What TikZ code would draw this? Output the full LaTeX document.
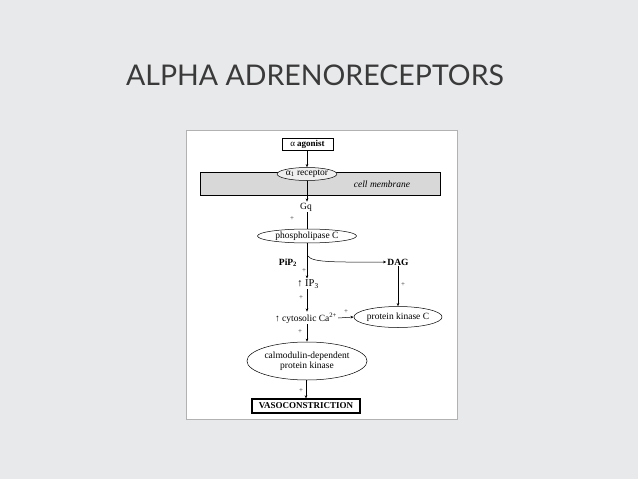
\documentclass[tikz,border=0pt]{standalone}
\usepackage{fontspec}
\setmainfont{Liberation Serif}
\newfontfamily\titlefont{Lato}
\usetikzlibrary{shapes.geometric,arrows.meta}
\definecolor{bgc}{HTML}{E8E9EB}
\definecolor{titlec}{HTML}{3A3A3A}
\definecolor{memc}{HTML}{D8D8D8}
\tikzset{
  lbl/.style={font=\fontsize{9.5}{10.5}\selectfont, inner sep=1pt},
  plus/.style={font=\fontsize{7}{7}\selectfont, inner sep=0.5pt, text=black!80},
  ell/.style={draw, ellipse, line width=0.5pt, inner sep=0pt, font=\fontsize{9.5}{10.5}\selectfont, fill=white},
  boxn/.style={draw, rectangle, line width=0.6pt, inner sep=0pt, font=\bfseries\fontsize{9}{10}\selectfont, fill=white},
  conn/.style={line width=0.5pt, -{Stealth[length=3.2pt,width=2.6pt]}},
}
\begin{document}
\begin{tikzpicture}[x=1pt,y=-1pt]
\useasboundingbox (0,0) rectangle (638,479);
\fill[bgc] (0,0) rectangle (638,479);
\node[text=titlec, font=\titlefont\fontsize{28.5}{30}\selectfont, anchor=base, inner sep=0pt] (title) at (315,85) {ALPHA ADRENORECEPTORS};
\draw[fill=white, draw=gray!60, line width=0.4pt] (186,130) rectangle (457,419);
\draw[fill=memc, line width=0.5pt] (200,172) rectangle (440,195);
\node[lbl, font=\itshape\fontsize{9.5}{10.5}\selectfont] (mem) at (382,184) {cell membrane};
\node[boxn, minimum width=51pt, minimum height=12pt, font=\fontsize{9}{10}\selectfont] (ago) at (307.5,144) {α \textbf{agonist}};
\node[ell, minimum width=53pt, minimum height=13pt, fill=memc!40] (rec) at (307,174) {α\textsubscript{1} receptor};
\node[lbl] (gq) at (306,207) {Gq};
\node[plus] (p1) at (292,219) {+};
\node[ell, minimum width=99pt, minimum height=14pt] (plc) at (307,236) {phospholipase C};
\node[lbl, font=\bfseries\fontsize{9.5}{10.5}\selectfont] (pip) at (288,263) {PiP\textsubscript{2}};
\node[lbl, font=\bfseries\fontsize{9.5}{10.5}\selectfont] (dag) at (398,262) {DAG};
\node[plus] (p2) at (304,271) {+};
\node[lbl, font=\fontsize{10.5}{11}\selectfont] (ip3) at (308,284) {↑ IP\textsubscript{3}};
\node[plus] (p3) at (301,298) {+};
\node[plus] (p4) at (403,285) {+};
\node[lbl] (ca) at (306,318) {↑ cytosolic Ca\textsuperscript{2+}};
\node[ell, minimum width=83pt, minimum height=21pt] (pkc) at (398,317) {protein kinase C};
\node[plus] (p5) at (346,312) {+};
\node[plus] (p6) at (300,332) {+};
\node[ell, minimum width=105pt, minimum height=38pt, align=center] (calm) at (307,361) {calmodulin-dependent\\protein kinase};
\node[plus] (p7) at (301,391) {+};
\node[boxn, minimum width=108pt, minimum height=14pt, line width=1.1pt] (vaso) at (306,406) {VASOCONSTRICTION};
\coordinate (br) at (308,256);
\draw[conn] (ago.south -| rec.north) -- (rec.north);
\draw[conn] (rec.south) -- (rec.south |- gq.north);
\draw[line width=0.5pt] (rec.south |- gq.south) -- (plc.north);
\draw[conn] (plc.south) -- (plc.south |- ip3.north);
\draw[conn] (br) .. controls (312,263) and (340,262) .. (dag.west);
\draw[conn] (plc.south |- ip3.south) -- (plc.south |- ca.north);
\draw[conn] (ca.east) -- (pkc.west);
\draw[conn] (dag.south -| pkc.north) -- (pkc.north);
\draw[conn] (calm.north |- ca.south) -- (calm.north);
\draw[conn] (calm.south -| vaso.north) -- (vaso.north);
\end{tikzpicture}
\end{document}
